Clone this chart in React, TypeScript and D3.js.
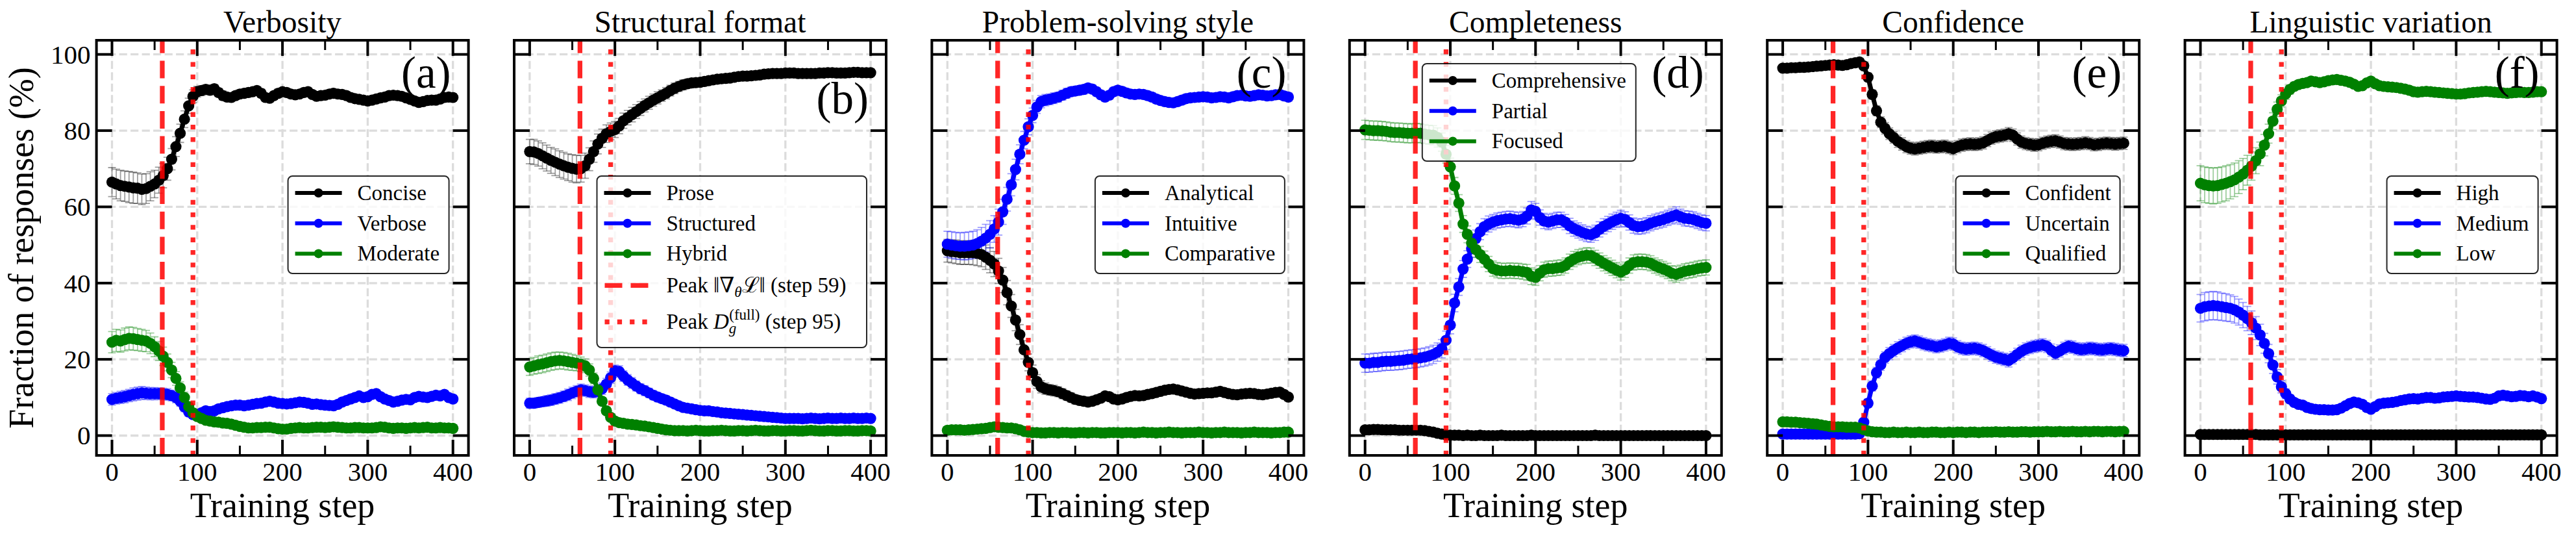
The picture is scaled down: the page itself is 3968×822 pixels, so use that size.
import React from 'react';
import * as d3 from 'd3';

// ---------------- DATA ----------------
const STEPS = d3.range(0, 401, 5);
const PEAK_GRAD_STEP = 59;
const PEAK_DG_STEP = 95;
const X_TICKS = [0, 100, 200, 300, 400];
const X_MINOR = [50, 150, 250, 350];
const Y_TICKS = [0, 20, 40, 60, 80, 100];

const TITLES = ['Verbosity', 'Structural format', 'Problem-solving style', 'Completeness', 'Confidence', 'Linguistic variation'];
const TAGS = ['(a)', '(b)', '(c)', '(d)', '(e)', '(f)'];
const LABELS_VERBOSITY = ['Concise', 'Verbose', 'Moderate'];
const LABELS_FORMAT = ['Prose', 'Structured', 'Hybrid'];
const LABELS_STYLE = ['Analytical', 'Intuitive', 'Comparative'];
const LABELS_COMPLETE = ['Comprehensive', 'Partial', 'Focused'];
const LABELS_CONF = ['Confident', 'Uncertain', 'Qualified'];
const LABELS_LING = ['High', 'Medium', 'Low'];
const COLORS = ['#000000', '#0000ff', '#008000'];

// (a) Verbosity
const CONCISE = [66.5,66.0,65.6,65.4,65.2,65.0,64.9,64.6,64.8,65.4,
66.0,67.0,68.2,70.0,72.5,75.8,79.3,83.0,86.5,89.0,
90.2,90.5,90.8,90.6,91.0,90.0,89.2,88.8,88.7,89.2,
89.6,89.8,90.0,90.2,90.5,89.8,88.7,88.5,89.2,89.8,
90.2,90.0,89.6,89.4,89.6,90.0,90.2,89.5,89.0,89.2,
89.3,89.6,89.8,89.6,89.5,89.2,88.7,88.4,88.2,88.0,
87.8,88.0,88.3,88.6,88.8,89.2,89.3,89.2,89.0,88.6,
88.2,87.8,87.4,87.6,87.9,88.0,88.0,88.3,88.7,88.8,
88.7];
const CONCISE_ERR = [3.8,3.9,4.0,4.0,4.1,4.1,4.0,4.0,3.9,3.8,
3.6,3.4,3.2,3.0,2.8,2.6,2.4,2.2,2.0,1.7,
1.4,1.3,1.2,1.2,1.1,1.1,1.2,1.1,1.1,1.0,
1.1,1.0,1.1,1.0,1.0,1.1,1.0,1.0,1.0,1.1,
1.0,1.0,1.1,1.0,1.0,1.0,1.1,1.0,1.0,1.0,
1.0,1.1,1.0,1.0,1.0,1.0,1.1,1.0,1.0,1.0,
1.0,1.0,1.1,1.0,1.0,1.0,1.0,1.1,1.0,1.0,
1.0,1.0,1.1,1.0,1.0,1.0,1.0,1.0,1.1,1.0,
1.0];
const VERBOSE = [9.5,9.8,10.0,10.2,10.5,10.8,11.0,11.2,11.1,11.0,
11.0,11.0,10.9,10.8,10.5,10.0,9.0,7.5,6.2,5.5,
5.5,6.0,6.5,6.3,6.5,7.0,7.3,7.6,7.8,8.0,
8.0,7.8,8.0,8.2,8.4,8.5,8.8,9.0,8.8,8.5,
8.4,8.3,8.4,8.6,8.8,8.7,8.5,8.2,8.3,8.1,
8.0,7.9,7.8,8.2,8.8,9.2,9.6,10.0,10.4,10.0,
10.2,10.8,11.0,10.2,9.6,9.2,8.8,9.0,9.3,9.5,
9.4,10.0,10.3,10.1,10.0,10.3,10.6,10.4,10.8,10.0,
9.6];
const VERBOSE_ERR = [1.5,1.5,1.6,1.6,1.6,1.7,1.7,1.7,1.6,1.6,
1.6,1.5,1.5,1.5,1.4,1.4,1.3,1.2,1.1,1.0,
1.0,0.9,1.0,0.9,1.0,1.0,0.9,1.0,0.9,1.0,
1.0,0.9,1.0,1.0,0.9,1.0,0.9,1.0,1.0,0.9,
1.0,0.9,1.0,1.0,0.9,1.0,1.0,0.9,1.0,0.9,
1.0,1.0,0.9,1.0,1.0,0.9,1.0,1.0,0.9,1.0,
1.0,0.9,1.0,1.0,0.9,1.0,1.0,0.9,1.0,1.0,
0.9,1.0,1.0,0.9,1.0,1.0,0.9,1.0,1.0,0.9,
1.0];
const MODERATE = [24.5,25.0,24.8,25.2,25.5,25.4,25.2,25.0,24.8,24.2,
23.3,22.2,20.8,19.2,17.2,15.0,12.5,10.0,7.6,6.0,
5.0,4.5,4.0,3.8,3.6,3.5,3.3,3.2,3.0,2.7,
2.4,2.2,2.0,2.0,2.1,2.1,2.2,2.2,2.0,1.8,
1.7,1.7,1.9,2.0,2.1,2.0,2.0,2.1,2.2,2.2,
2.1,2.2,2.3,2.2,2.1,2.0,2.0,2.1,2.1,2.0,
2.0,2.0,2.1,2.3,2.2,2.0,1.9,2.0,2.0,1.9,
2.0,2.1,2.0,2.1,2.2,2.0,2.0,2.1,2.0,2.0,
1.9];
const MODERATE_ERR = [2.8,2.9,2.9,3.0,3.0,3.0,2.9,2.9,2.8,2.7,
2.6,2.5,2.4,2.2,2.0,1.8,1.6,1.4,1.2,1.0,
0.9,0.8,0.8,0.7,0.8,0.7,0.8,0.7,0.7,0.8,
0.7,0.7,0.8,0.7,0.7,0.8,0.7,0.7,0.8,0.7,
0.7,0.8,0.7,0.7,0.8,0.7,0.7,0.8,0.7,0.7,
0.8,0.7,0.7,0.8,0.7,0.7,0.8,0.7,0.7,0.8,
0.7,0.7,0.8,0.7,0.7,0.8,0.7,0.7,0.8,0.7,
0.7,0.8,0.7,0.7,0.8,0.7,0.7,0.8,0.7,0.7,
0.8];

// (b) Structural format
const PROSE = [74.5,74.4,74.0,73.4,72.8,72.2,71.7,71.2,70.8,70.4,
70.1,69.9,70.0,70.8,72.5,74.5,76.5,78.0,79.2,79.8,
80.3,81.2,82.6,83.4,84.2,85.0,85.8,86.6,87.3,88.0,
88.6,89.2,89.8,90.5,91.1,91.6,92.0,92.3,92.5,92.6,
92.7,92.9,93.1,93.3,93.5,93.6,93.7,93.8,94.0,94.2,
94.3,94.3,94.4,94.5,94.6,94.8,94.9,95.0,95.0,95.0,
95.1,95.1,95.1,95.0,95.0,95.0,95.0,95.0,95.1,95.1,
95.2,95.2,95.1,95.1,95.1,95.2,95.3,95.3,95.2,95.2,
95.2];
const PROSE_ERR = [3.2,3.3,3.3,3.4,3.4,3.4,3.5,3.5,3.5,3.5,
3.6,3.6,3.5,3.3,3.0,2.8,2.6,2.4,2.3,2.2,
2.1,2.0,2.0,1.9,1.9,1.8,1.8,1.7,1.7,1.6,
1.6,1.5,1.5,1.4,1.4,1.3,1.3,1.2,1.2,1.1,
1.1,1.1,1.0,1.0,1.0,1.0,1.0,1.0,1.0,1.0,
1.0,0.9,1.0,0.9,1.0,0.9,1.0,0.9,1.0,0.9,
1.0,0.9,1.0,0.9,1.0,0.9,1.0,0.9,1.0,0.9,
1.0,0.9,1.0,0.9,1.0,0.9,1.0,0.9,1.0,0.9,
1.0];
const STRUCTURED = [8.5,8.5,8.7,8.9,9.1,9.3,9.6,9.9,10.3,10.7,
11.2,11.6,12.0,11.8,11.5,11.4,11.6,12.3,13.5,15.2,
17.0,16.8,15.6,14.6,13.8,13.0,12.3,11.8,11.2,10.6,
10.1,9.7,9.3,8.8,8.3,7.8,7.4,7.2,7.0,6.8,
6.6,6.5,6.5,6.3,6.2,6.0,5.9,5.8,5.7,5.6,
5.5,5.4,5.3,5.2,5.1,5.0,4.9,4.8,4.7,4.6,
4.5,4.5,4.5,4.5,4.4,4.5,4.6,4.5,4.4,4.5,
4.6,4.5,4.5,4.6,4.5,4.5,4.6,4.5,4.5,4.6,
4.5];
const STRUCTURED_ERR = [1.3,1.3,1.3,1.3,1.4,1.4,1.4,1.4,1.4,1.5,
1.5,1.5,1.5,1.5,1.5,1.5,1.5,1.5,1.5,1.5,
1.5,1.5,1.4,1.4,1.4,1.3,1.3,1.3,1.2,1.2,
1.2,1.1,1.1,1.1,1.0,1.0,1.0,1.0,1.0,1.0,
0.9,0.9,0.9,0.9,0.9,0.9,0.9,0.9,0.9,0.9,
0.8,0.8,0.8,0.8,0.8,0.8,0.8,0.8,0.8,0.8,
0.8,0.8,0.8,0.8,0.8,0.8,0.8,0.8,0.8,0.8,
0.8,0.8,0.8,0.8,0.8,0.8,0.8,0.8,0.8,0.8,
0.8];
const HYBRID = [18.0,18.3,18.6,18.8,19.1,19.4,19.6,19.7,19.6,19.4,
19.2,19.0,18.7,18.3,17.2,15.0,12.0,9.0,6.5,4.8,
3.8,3.4,3.2,3.0,2.9,2.8,2.6,2.5,2.3,2.1,
1.9,1.7,1.5,1.4,1.3,1.3,1.3,1.2,1.3,1.4,
1.3,1.2,1.2,1.3,1.3,1.4,1.3,1.2,1.2,1.3,
1.3,1.2,1.3,1.4,1.3,1.2,1.2,1.3,1.3,1.2,
1.2,1.3,1.3,1.2,1.2,1.3,1.4,1.3,1.2,1.2,
1.3,1.3,1.2,1.2,1.3,1.3,1.2,1.2,1.3,1.3,
1.2];
const HYBRID_ERR = [2.2,2.2,2.3,2.3,2.3,2.3,2.3,2.2,2.2,2.2,
2.1,2.0,1.9,1.8,1.6,1.4,1.2,1.0,0.9,0.8,
0.7,0.7,0.6,0.6,0.6,0.6,0.6,0.6,0.6,0.6,
0.5,0.5,0.5,0.5,0.5,0.5,0.5,0.5,0.5,0.5,
0.5,0.5,0.5,0.5,0.5,0.5,0.5,0.5,0.5,0.5,
0.5,0.5,0.5,0.5,0.5,0.5,0.5,0.5,0.5,0.5,
0.5,0.5,0.5,0.5,0.5,0.5,0.5,0.5,0.5,0.5,
0.5,0.5,0.5,0.5,0.5,0.5,0.5,0.5,0.5,0.5,
0.5];

// (c) Problem-solving style
const ANALYTICAL = [48.5,48.3,48.2,48.0,48.0,48.0,48.0,47.8,47.5,46.8,
46.0,45.0,43.2,40.8,37.5,34.0,30.3,26.5,22.5,19.2,
16.5,14.2,12.8,12.3,12.0,11.8,11.5,11.0,10.5,10.0,
9.5,9.2,9.0,8.8,9.0,9.4,9.8,10.4,10.2,9.6,
9.4,9.6,10.0,10.3,10.5,10.4,10.5,10.8,11.0,11.3,
11.6,11.9,12.1,12.2,12.0,11.7,11.4,11.1,10.9,11.0,
11.1,11.2,11.2,11.4,11.6,11.3,11.0,10.8,10.7,10.9,
11.0,11.1,11.0,10.8,10.7,10.9,11.1,11.3,11.4,10.8,
10.1];
const ANALYTICAL_ERR = [3.0,3.0,3.1,3.1,3.1,3.1,3.2,3.2,3.2,3.2,
3.3,3.3,3.3,3.3,3.2,3.0,2.8,2.6,2.4,2.2,
2.0,1.8,1.6,1.5,1.4,1.4,1.3,1.3,1.2,1.2,
1.2,1.1,1.1,1.1,1.1,1.0,1.0,1.0,1.0,1.0,
1.0,1.0,1.0,1.0,1.0,1.0,1.0,1.0,1.0,1.0,
1.0,1.0,1.0,1.0,1.0,1.0,1.0,1.0,1.0,1.0,
1.0,1.0,1.0,1.0,1.0,1.0,1.0,1.0,1.0,1.0,
1.0,1.0,1.0,1.0,1.0,1.0,1.0,1.0,1.0,1.0,
1.0];
const INTUITIVE = [50.2,50.0,49.8,49.7,49.7,49.8,50.0,50.4,51.0,51.8,
52.8,54.2,56.0,58.7,62.0,65.8,69.8,73.8,77.5,81.0,
84.0,86.2,87.6,88.0,88.2,88.5,88.8,89.3,89.8,90.2,
90.4,90.6,90.8,91.2,90.9,90.2,89.4,88.8,89.3,90.2,
90.6,90.3,89.9,89.6,89.5,89.6,89.5,89.2,88.8,88.3,
87.9,87.6,87.4,87.3,87.6,88.0,88.4,88.6,88.7,88.8,
88.9,88.8,88.6,88.7,88.9,88.8,88.6,88.9,89.2,89.3,
89.1,89.0,89.2,89.4,89.3,89.1,89.2,89.4,89.5,89.1,
88.8];
const INTUITIVE_ERR = [3.4,3.5,3.5,3.5,3.6,3.6,3.6,3.6,3.6,3.6,
3.6,3.5,3.4,3.3,3.1,2.9,2.7,2.5,2.3,2.1,
1.9,1.7,1.6,1.5,1.4,1.4,1.3,1.3,1.3,1.2,
1.2,1.2,1.2,1.1,1.1,1.1,1.1,1.1,1.1,1.1,
1.1,1.1,1.1,1.1,1.1,1.1,1.1,1.1,1.1,1.1,
1.1,1.1,1.1,1.1,1.1,1.1,1.1,1.1,1.1,1.1,
1.1,1.1,1.1,1.1,1.1,1.1,1.1,1.1,1.1,1.1,
1.1,1.1,1.1,1.1,1.1,1.1,1.1,1.1,1.1,1.1,
1.1];
const COMPARATIVE = [1.4,1.5,1.5,1.5,1.4,1.5,1.6,1.7,1.8,1.9,
2.1,2.3,2.2,2.1,2.0,2.0,1.8,1.5,1.1,0.9,
0.8,0.8,0.7,0.7,0.8,0.8,0.7,0.8,0.8,0.7,
0.7,0.8,0.8,0.7,0.8,0.8,0.7,0.7,0.8,0.8,
0.8,0.7,0.8,0.8,0.7,0.8,0.9,0.8,0.8,0.7,
0.8,0.8,0.9,0.8,0.8,0.7,0.8,0.8,0.8,0.9,
0.8,0.8,0.7,0.8,0.8,0.9,0.8,0.8,0.8,0.7,
0.8,0.8,0.9,0.8,0.8,0.8,0.7,0.8,0.8,0.9,
0.9];
const COMPARATIVE_ERR = [0.5,0.5,0.5,0.5,0.5,0.5,0.5,0.5,0.5,0.5,
0.5,0.5,0.5,0.5,0.5,0.5,0.5,0.5,0.4,0.4,
0.4,0.4,0.4,0.4,0.4,0.4,0.4,0.4,0.4,0.4,
0.4,0.4,0.4,0.4,0.4,0.4,0.4,0.4,0.4,0.4,
0.4,0.4,0.4,0.4,0.4,0.4,0.4,0.4,0.4,0.4,
0.4,0.4,0.4,0.4,0.4,0.4,0.4,0.4,0.4,0.4,
0.4,0.4,0.4,0.4,0.4,0.4,0.4,0.4,0.4,0.4,
0.4,0.4,0.4,0.4,0.4,0.4,0.4,0.4,0.4,0.4,
0.4];

// (d) Completeness
const COMPREHENSIVE = [1.5,1.5,1.6,1.6,1.5,1.5,1.5,1.5,1.4,1.4,
1.4,1.4,1.4,1.4,1.3,1.1,0.9,0.6,0.4,0.2,
0.1,0.1,0.1,0.0,0.1,0.0,0.0,0.1,0.0,0.0,
0.0,0.0,0.1,0.0,0.0,0.0,0.0,0.0,0.0,0.1,
0.0,0.0,0.0,0.0,0.0,0.0,0.0,0.0,0.0,0.0,
0.0,0.0,0.0,0.0,0.1,0.0,0.0,0.0,0.0,0.0,
0.0,0.0,0.0,0.0,0.0,0.0,0.0,0.0,0.0,0.0,
0.0,0.0,0.0,0.0,0.0,0.0,0.0,0.0,0.0,0.0,
0.0];
const COMPREHENSIVE_ERR = [0.4,0.4,0.4,0.4,0.4,0.4,0.4,0.4,0.4,0.4,
0.4,0.4,0.4,0.4,0.4,0.3,0.3,0.3,0.2,0.2,
0.1,0.1,0.1,0.1,0.1,0.1,0.1,0.1,0.1,0.1,
0.1,0.1,0.1,0.1,0.1,0.1,0.1,0.1,0.1,0.1,
0.1,0.1,0.1,0.1,0.1,0.1,0.1,0.1,0.1,0.1,
0.1,0.1,0.1,0.1,0.1,0.1,0.1,0.1,0.1,0.1,
0.1,0.1,0.1,0.1,0.1,0.1,0.1,0.1,0.1,0.1,
0.1,0.1,0.1,0.1,0.1,0.1,0.1,0.1,0.1,0.1,
0.1];
const PARTIAL = [19.0,19.0,19.2,19.2,19.4,19.5,19.5,19.6,19.7,19.8,
20.0,20.1,20.2,20.4,20.6,20.9,21.3,21.9,22.8,25.0,
29.0,34.8,39.0,43.7,46.3,49.0,51.7,53.5,54.8,55.5,
56.0,56.4,56.6,56.8,56.9,56.7,56.5,56.8,57.6,59.2,
58.8,57.2,56.3,56.0,56.3,56.6,56.6,56.0,55.0,54.3,
53.8,53.3,52.9,52.7,53.2,54.1,54.9,55.5,56.1,56.6,
57.0,56.7,55.9,55.1,54.8,54.9,55.2,55.7,56.1,56.4,
56.7,57.1,57.5,57.9,57.4,57.0,56.9,56.7,56.3,55.9,
55.7];
const PARTIAL_ERR = [2.4,2.4,2.4,2.4,2.4,2.4,2.4,2.4,2.4,2.4,
2.4,2.4,2.4,2.4,2.4,2.4,2.4,2.4,2.4,2.4,
2.3,2.3,2.2,2.2,2.2,2.2,2.2,2.1,2.1,2.1,
2.0,2.0,2.0,2.0,2.0,2.0,2.0,2.0,2.1,2.2,
2.1,2.0,2.0,2.0,2.0,2.0,2.0,2.0,2.0,2.0,
2.0,2.0,2.0,2.0,2.0,2.0,2.0,2.0,2.0,2.0,
2.1,2.0,2.0,2.0,2.0,2.0,2.0,2.0,2.0,2.0,
2.0,2.0,2.0,2.1,2.0,2.0,2.0,2.0,2.0,2.0,
2.0];
const FOCUSED = [80.2,80.1,80.0,80.0,79.9,79.8,79.6,79.5,79.5,79.4,
79.3,79.3,79.4,79.3,79.1,78.9,78.8,78.2,77.0,73.8,
70.5,65.5,61.0,55.5,52.8,50.5,48.8,47.5,46.3,45.0,
43.8,43.4,43.2,43.2,43.3,43.2,43.2,43.0,42.8,41.8,
41.5,42.6,43.5,43.8,43.8,44.0,44.1,44.6,45.6,46.3,
46.8,47.1,47.3,47.2,46.6,45.9,45.2,44.6,44.0,43.4,
42.9,43.5,44.6,45.4,45.6,45.6,45.5,45.2,44.6,44.1,
43.7,43.2,42.6,42.3,42.7,43.1,43.3,43.5,43.8,44.0,
44.1];
const FOCUSED_ERR = [2.5,2.5,2.5,2.5,2.5,2.5,2.5,2.5,2.5,2.5,
2.5,2.5,2.5,2.5,2.5,2.5,2.5,2.5,2.4,2.3,
2.3,2.2,2.2,2.2,2.2,2.2,2.1,2.1,2.1,2.0,
2.0,2.0,2.0,2.0,2.0,2.0,2.0,2.0,2.1,2.2,
2.1,2.0,2.0,2.0,2.0,2.0,2.0,2.0,2.0,2.0,
2.0,2.0,2.0,2.0,2.0,2.0,2.0,2.0,2.0,2.0,
2.1,2.0,2.0,2.0,2.0,2.0,2.0,2.0,2.0,2.0,
2.0,2.0,2.0,2.1,2.0,2.0,2.0,2.0,2.0,2.0,
2.0];

// (e) Confidence
const CONFIDENT = [96.4,96.4,96.5,96.5,96.6,96.6,96.7,96.8,96.9,97.0,
97.1,97.2,97.3,97.2,97.1,97.3,97.6,97.8,98.0,97.0,
94.0,89.5,85.2,82.2,80.6,79.2,78.2,77.2,76.5,75.8,
75.4,75.2,75.4,75.6,75.8,75.9,75.7,75.8,75.9,75.6,
75.3,75.8,76.2,76.4,76.5,76.4,76.5,76.8,77.4,78.0,
78.4,78.6,78.8,79.2,78.8,77.8,77.0,76.6,76.4,76.2,
76.3,76.7,77.0,77.2,77.3,77.0,76.6,76.5,76.4,76.5,
76.6,76.8,76.6,76.3,76.4,76.6,76.7,76.6,76.5,76.6,
76.7];
const CONFIDENT_ERR = [0.6,0.6,0.6,0.6,0.6,0.6,0.6,0.6,0.6,0.6,
0.6,0.6,0.6,0.6,0.6,0.6,0.6,0.6,0.7,0.9,
1.1,1.2,1.3,1.4,1.5,1.5,1.5,1.6,1.6,1.6,
1.6,1.6,1.6,1.6,1.6,1.6,1.6,1.6,1.6,1.6,
1.6,1.6,1.6,1.6,1.6,1.6,1.6,1.6,1.6,1.6,
1.6,1.6,1.6,1.6,1.6,1.6,1.6,1.6,1.6,1.6,
1.6,1.6,1.6,1.6,1.6,1.6,1.6,1.6,1.6,1.6,
1.6,1.6,1.6,1.6,1.6,1.6,1.6,1.6,1.6,1.6,
1.6];
const UNCERTAIN = [0.4,0.4,0.4,0.4,0.4,0.4,0.4,0.4,0.4,0.4,
0.4,0.4,0.4,0.4,0.4,0.4,0.4,0.4,0.5,3.5,
8.5,13.0,16.5,18.6,20.5,21.5,22.3,23.0,23.6,24.2,
24.6,24.8,24.5,24.1,23.8,23.6,23.3,23.5,23.8,24.2,
24.0,23.3,22.9,22.7,22.8,22.9,22.7,22.3,21.7,21.1,
20.6,20.3,20.0,19.7,20.4,21.3,22.1,22.7,23.1,23.4,
23.6,23.8,23.4,22.4,21.6,22.2,22.9,23.4,23.2,22.8,
22.6,22.7,22.9,22.8,22.6,22.5,22.7,22.8,22.6,22.4,
22.3];
const UNCERTAIN_ERR = [0.3,0.3,0.3,0.3,0.3,0.3,0.3,0.3,0.3,0.3,
0.3,0.3,0.3,0.3,0.3,0.3,0.3,0.3,0.4,0.8,
1.1,1.3,1.4,1.5,1.5,1.6,1.6,1.6,1.6,1.6,
1.6,1.6,1.6,1.6,1.6,1.6,1.6,1.6,1.6,1.6,
1.6,1.6,1.6,1.6,1.6,1.6,1.6,1.6,1.6,1.6,
1.6,1.6,1.6,1.7,1.6,1.6,1.6,1.6,1.6,1.6,
1.6,1.6,1.6,1.6,1.6,1.6,1.6,1.6,1.6,1.6,
1.6,1.6,1.6,1.6,1.6,1.6,1.6,1.6,1.6,1.6,
1.6];
const QUALIFIED = [3.6,3.6,3.5,3.5,3.4,3.3,3.2,3.1,3.0,2.8,
2.6,2.4,2.3,2.3,2.3,2.2,2.2,2.2,2.0,1.6,
1.2,1.0,0.9,0.9,0.8,0.8,0.9,0.8,0.8,0.9,
0.8,0.8,0.9,0.8,0.8,0.9,0.9,0.8,0.8,0.9,
0.8,0.9,0.9,0.8,0.9,0.9,0.8,0.9,0.9,0.9,
1.0,0.9,0.9,1.0,0.9,0.9,1.0,1.0,0.9,1.0,
1.0,1.0,1.1,1.0,1.0,1.1,1.0,1.0,1.1,1.0,
1.0,1.1,1.0,1.1,1.1,1.0,1.1,1.1,1.0,1.1,
1.1];
const QUALIFIED_ERR = [0.7,0.7,0.7,0.7,0.7,0.7,0.7,0.7,0.7,0.7,
0.7,0.7,0.7,0.7,0.7,0.7,0.6,0.6,0.6,0.5,
0.4,0.4,0.4,0.4,0.4,0.4,0.4,0.4,0.4,0.4,
0.4,0.4,0.4,0.4,0.4,0.4,0.4,0.4,0.4,0.4,
0.4,0.4,0.4,0.4,0.4,0.4,0.4,0.4,0.4,0.4,
0.4,0.4,0.4,0.4,0.4,0.4,0.4,0.4,0.4,0.4,
0.4,0.4,0.4,0.4,0.4,0.4,0.4,0.4,0.4,0.4,
0.4,0.4,0.4,0.4,0.4,0.4,0.4,0.4,0.4,0.4,
0.4];

// (f) Linguistic variation
const HIGH = [0.3,0.3,0.3,0.3,0.3,0.3,0.3,0.3,0.3,0.3,
0.3,0.3,0.3,0.3,0.2,0.2,0.2,0.2,0.2,0.2,
0.2,0.2,0.2,0.2,0.2,0.2,0.2,0.2,0.2,0.2,
0.2,0.2,0.2,0.2,0.2,0.2,0.2,0.2,0.2,0.2,
0.2,0.2,0.2,0.2,0.2,0.2,0.2,0.2,0.2,0.2,
0.2,0.2,0.2,0.2,0.2,0.2,0.2,0.2,0.2,0.2,
0.2,0.2,0.2,0.2,0.2,0.2,0.2,0.2,0.2,0.2,
0.2,0.2,0.2,0.2,0.2,0.2,0.2,0.2,0.2,0.2,
0.2];
const HIGH_ERR = [0.2,0.2,0.2,0.2,0.2,0.2,0.2,0.2,0.2,0.2,
0.2,0.2,0.2,0.2,0.2,0.2,0.2,0.2,0.2,0.2,
0.2,0.2,0.2,0.2,0.2,0.2,0.2,0.2,0.2,0.2,
0.2,0.2,0.2,0.2,0.2,0.2,0.2,0.2,0.2,0.2,
0.2,0.2,0.2,0.2,0.2,0.2,0.2,0.2,0.2,0.2,
0.2,0.2,0.2,0.2,0.2,0.2,0.2,0.2,0.2,0.2,
0.2,0.2,0.2,0.2,0.2,0.2,0.2,0.2,0.2,0.2,
0.2,0.2,0.2,0.2,0.2,0.2,0.2,0.2,0.2,0.2,
0.2];
const MEDIUM = [33.4,33.8,34.0,34.1,34.0,33.8,33.6,33.4,33.0,32.4,
31.6,30.7,29.6,28.2,26.4,24.2,21.5,18.5,15.4,12.8,
11.0,9.6,8.7,8.2,8.0,7.4,7.1,6.9,6.8,6.8,
6.7,6.7,6.8,7.2,7.8,8.4,8.8,8.6,8.2,7.4,
6.9,7.6,8.3,8.5,8.6,8.7,8.9,9.2,9.4,9.6,
9.7,9.6,9.8,10.0,10.0,9.8,9.9,10.1,10.2,10.3,
10.4,10.3,10.2,10.1,10.1,10.0,9.8,9.6,9.5,9.8,
10.4,10.6,10.4,10.2,10.3,10.5,10.4,10.2,10.4,10.1,
9.7];
const MEDIUM_ERR = [3.6,3.7,3.7,3.7,3.7,3.6,3.6,3.5,3.5,3.4,
3.3,3.2,3.1,3.0,2.8,2.6,2.4,2.2,1.9,1.6,
1.3,1.1,1.0,0.9,0.9,0.9,0.8,0.8,0.8,0.8,
0.8,0.8,0.8,0.8,0.8,0.8,0.8,0.8,0.8,0.8,
0.8,0.8,0.8,0.8,0.8,0.8,0.8,0.8,0.8,0.8,
0.8,0.8,0.8,0.8,0.8,0.8,0.8,0.8,0.8,0.8,
0.8,0.8,0.8,0.8,0.8,0.8,0.8,0.8,0.8,0.8,
0.8,0.8,0.8,0.8,0.8,0.8,0.8,0.8,0.8,0.8,
0.8];
const LOW = [66.2,65.8,65.6,65.5,65.6,65.9,66.2,66.6,67.1,67.8,
68.6,69.6,70.7,72.1,73.9,76.2,79.2,82.5,85.6,87.8,
89.6,90.8,91.6,92.1,92.4,92.6,93.0,92.8,92.6,92.8,
93.1,93.3,93.4,93.2,93.0,92.7,92.2,91.6,91.8,92.5,
93.0,92.3,91.8,91.6,91.5,91.4,91.3,91.1,90.9,90.6,
90.2,90.1,90.2,90.3,90.2,90.1,90.0,89.9,89.8,89.7,
89.6,89.6,89.7,89.9,90.0,90.1,90.2,90.3,90.2,90.1,
90.0,89.9,89.8,89.9,90.0,90.1,90.0,90.0,90.1,90.2,
90.2];
const LOW_ERR = [4.6,4.7,4.7,4.7,4.7,4.6,4.6,4.5,4.4,4.3,
4.1,3.9,3.7,3.4,3.1,2.8,2.5,2.2,1.9,1.6,
1.4,1.2,1.1,1.0,1.0,1.0,0.9,0.9,0.9,0.9,
0.9,0.9,0.9,0.9,0.9,0.9,0.9,0.9,0.9,0.9,
0.9,0.9,0.9,0.9,0.9,0.9,0.9,0.9,0.9,0.9,
0.9,0.9,0.9,0.9,0.9,0.9,0.9,0.9,0.9,0.9,
0.9,0.9,0.9,0.9,0.9,0.9,0.9,0.9,0.9,0.9,
0.9,0.9,0.9,0.9,0.9,0.9,0.9,0.9,0.9,0.9,
0.9];

const PANELS = [
  { title: TITLES[0], tag: TAGS[0], labels: LABELS_VERBOSITY, values: [CONCISE, VERBOSE, MODERATE], errors: [CONCISE_ERR, VERBOSE_ERR, MODERATE_ERR] },
  { title: TITLES[1], tag: TAGS[1], labels: LABELS_FORMAT, values: [PROSE, STRUCTURED, HYBRID], errors: [PROSE_ERR, STRUCTURED_ERR, HYBRID_ERR] },
  { title: TITLES[2], tag: TAGS[2], labels: LABELS_STYLE, values: [ANALYTICAL, INTUITIVE, COMPARATIVE], errors: [ANALYTICAL_ERR, INTUITIVE_ERR, COMPARATIVE_ERR] },
  { title: TITLES[3], tag: TAGS[3], labels: LABELS_COMPLETE, values: [COMPREHENSIVE, PARTIAL, FOCUSED], errors: [COMPREHENSIVE_ERR, PARTIAL_ERR, FOCUSED_ERR] },
  { title: TITLES[4], tag: TAGS[4], labels: LABELS_CONF, values: [CONFIDENT, UNCERTAIN, QUALIFIED], errors: [CONFIDENT_ERR, UNCERTAIN_ERR, QUALIFIED_ERR] },
  { title: TITLES[5], tag: TAGS[5], labels: LABELS_LING, values: [HIGH, MEDIUM, LOW], errors: [HIGH_ERR, MEDIUM_ERR, LOW_ERR] },
];

// ---------------- LAYOUT ----------------
const W = 3968;
const H = 822;
const LEFT0 = 148.6;
const PSTEP = 643.4;
const PW = 573;
const TOP = 62;
const BOTTOM = 701;
const X_DOMAIN = [-18.2, 418.2];
const Y_DOMAIN = [-5.2, 103.7];
const FONT = "'Liberation Serif', 'Times New Roman', Times, 'DejaVu Serif', serif";
const RED = '#ff0000';

const LEGEND_LAYOUT = [
  { right: 30, top: 209, width: 248 },
  { right: 30, top: 209, width: 415.5, peaks: true },
  { right: 29.5, top: 209, width: 292 },
  { left: 112, top: 36, width: 329 },
  { right: 29.6, top: 209, width: 253 },
  { right: 29, top: 209, width: 233 },
];
const TAG_BASELINE = [135, 175, 135, 135, 135, 135];

function Legend({ L, layout, labels }: any) {
  const bx = layout.left != null ? L + layout.left : L + PW - layout.right - layout.width;
  const by = TOP + layout.top;
  const h = layout.peaks ? 264 : 150;
  const rows = [26, 72.7, 119.4];
  const hx0 = bx + 11, hx1 = bx + 83, mx = bx + 47, tx = bx + 107;
  return (
    <g>
      <rect x={bx} y={by} width={layout.width} height={h} rx={7} ry={7}
        fill="#ffffff" fillOpacity={0.8} stroke="#000" strokeOpacity={0.85} strokeWidth={2} />
      {labels.map((lab: string, k: number) => (
        <g key={lab}>
          <line x1={hx0} x2={hx1} y1={by + rows[k]} y2={by + rows[k]} stroke={COLORS[k]} strokeWidth={6} />
          <circle cx={mx} cy={by + rows[k]} r={7} fill={COLORS[k]} />
          <text x={tx} y={by + rows[k] + 10.8} fontSize={33} fontFamily={FONT}>{lab}</text>
        </g>
      ))}
      {layout.peaks && (
        <g>
          <line x1={hx0 + 1} x2={hx1} y1={by + 168.4} y2={by + 168.4} stroke={RED} strokeOpacity={0.85}
            strokeWidth={7.3} strokeDasharray="27 13" />
          <line x1={hx0 + 1} x2={hx1} y1={by + 224.5} y2={by + 224.5} stroke={RED} strokeOpacity={0.85}
            strokeWidth={7.3} strokeDasharray="7.3 12" />
          <text x={tx} y={by + 168.4 + 10.8} fontSize={33} fontFamily={FONT}>
            Peak ‖∇<tspan fontStyle="italic" fontSize={23} dy={7}>θ</tspan><tspan dy={-7}>ℒ‖ (step {PEAK_GRAD_STEP})</tspan>
          </text>
          <text x={tx} y={by + 224.5 + 10.8} fontSize={33} fontFamily={FONT}>
            Peak <tspan fontStyle="italic">D</tspan>
            <tspan fontStyle="italic" fontSize={23} dy={7}>g</tspan>
            <tspan fontSize={23} dx={-11} dy={-21}>(full)</tspan>
            <tspan dy={14}> (step {PEAK_DG_STEP})</tspan>
          </text>
        </g>
      )}
    </g>
  );
}

function Panel({ p, i }: any) {
  const L = LEFT0 + i * PSTEP;
  const R = L + PW;
  const x = d3.scaleLinear().domain(X_DOMAIN).range([L, R]);
  const y = d3.scaleLinear().domain(Y_DOMAIN).range([BOTTOM, TOP]);
  const line = d3.line<number>().x((_, j) => x(STEPS[j])).y((v) => y(v));
  const clipId = `clip-${i}`;
  return (
    <g>
      <defs>
        <clipPath id={clipId}><rect x={L} y={TOP} width={PW} height={BOTTOM - TOP} /></clipPath>
      </defs>
      {/* grid */}
      <g stroke="#dcdcdc" strokeWidth={3.3} strokeDasharray="12.2 5.3">
        {X_TICKS.map((t) => <line key={'gx' + t} x1={x(t)} x2={x(t)} y1={BOTTOM} y2={TOP} />)}
        {Y_TICKS.map((t) => <line key={'gy' + t} x1={L} x2={R} y1={y(t)} y2={y(t)} />)}
      </g>
      <g clipPath={`url(#${clipId})`}>
        {/* error bars */}
        {p.values.map((vals: number[], k: number) => (
          <g key={'e' + k} stroke={COLORS[k]} strokeOpacity={0.38} strokeWidth={1.8}>
            {vals.map((v, j) => {
              const e = p.errors[k][j] ?? 0;
              const cx = x(STEPS[j]);
              const y0 = y(v - e), y1 = y(v + e);
              return (
                <g key={j}>
                  <line x1={cx} x2={cx} y1={y0} y2={y1} />
                  <line x1={cx - 6} x2={cx + 6} y1={y0} y2={y0} />
                  <line x1={cx - 6} x2={cx + 6} y1={y1} y2={y1} />
                </g>
              );
            })}
          </g>
        ))}
        {/* lines + markers */}
        {p.values.map((vals: number[], k: number) => (
          <g key={'s' + k}>
            <path d={line(vals) || ''} fill="none" stroke={COLORS[k]} strokeWidth={7} strokeLinejoin="round" />
            {vals.map((v, j) => <circle key={j} cx={x(STEPS[j])} cy={y(v)} r={8.6} fill={COLORS[k]} />)}
          </g>
        ))}
        {/* peak lines */}
        <line x1={x(PEAK_GRAD_STEP)} x2={x(PEAK_GRAD_STEP)} y1={BOTTOM} y2={TOP} stroke={RED} strokeOpacity={0.85}
          strokeWidth={7.3} strokeDasharray="27 11.7" />
        <line x1={x(PEAK_DG_STEP)} x2={x(PEAK_DG_STEP)} y1={BOTTOM} y2={TOP} stroke={RED} strokeOpacity={0.85}
          strokeWidth={7.3} strokeDasharray="7.3 12" />
      </g>
      {/* ticks */}
      <g stroke="#000">
        {X_TICKS.map((t) => (
          <g key={'tx' + t} strokeWidth={4}>
            <line x1={x(t)} x2={x(t)} y1={BOTTOM} y2={BOTTOM - 24} />
            <line x1={x(t)} x2={x(t)} y1={TOP} y2={TOP + 24} />
          </g>
        ))}
        {X_MINOR.map((t) => (
          <g key={'tm' + t} strokeWidth={3}>
            <line x1={x(t)} x2={x(t)} y1={BOTTOM} y2={BOTTOM - 15} />
            <line x1={x(t)} x2={x(t)} y1={TOP} y2={TOP + 15} />
          </g>
        ))}
        {Y_TICKS.map((t) => (
          <g key={'ty' + t} strokeWidth={4}>
            <line x1={L} x2={L + 24} y1={y(t)} y2={y(t)} />
            <line x1={R} x2={R - 24} y1={y(t)} y2={y(t)} />
          </g>
        ))}
      </g>
      <rect x={L} y={TOP} width={PW} height={BOTTOM - TOP} fill="none" stroke="#000" strokeWidth={4} />
      {/* tick labels */}
      {X_TICKS.map((t) => (
        <text key={'lx' + t} x={x(t)} y={740} textAnchor="middle" fontSize={41} fontFamily={FONT}>{t}</text>
      ))}
      {i === 0 && Y_TICKS.map((t) => (
        <text key={'ly' + t} x={L - 9} y={y(t) + 14} textAnchor="end" fontSize={41} fontFamily={FONT}>{t}</text>
      ))}
      {i === 0 && (
        <text transform={`translate(51, ${(TOP + BOTTOM) / 2}) rotate(-90)`} textAnchor="middle" fontSize={54} fontFamily={FONT}>
          Fraction of responses (%)
        </text>
      )}
      <text x={(L + R) / 2} y={796} textAnchor="middle" fontSize={54} fontFamily={FONT}>Training step</text>
      <text x={(L + R) / 2} y={50} textAnchor="middle" fontSize={47.5} fontFamily={FONT}>{p.title}</text>
      <text x={R - 27} y={TAG_BASELINE[i]} textAnchor="end" fontSize={69} fontFamily={FONT}>{p.tag}</text>
      <Legend L={L} layout={LEGEND_LAYOUT[i]} labels={p.labels} />
    </g>
  );
}

export default function App() {
  return (
    <svg width={W} height={H} viewBox={`0 0 ${W} ${H}`}
      style={{ position: 'absolute', left: 0, top: 0, background: '#ffffff', display: 'block' }}>
      <rect x={0} y={0} width={W} height={H} fill="#ffffff" />
      {PANELS.map((p, i) => <Panel key={i} p={p} i={i} />)}
    </svg>
  );
}
